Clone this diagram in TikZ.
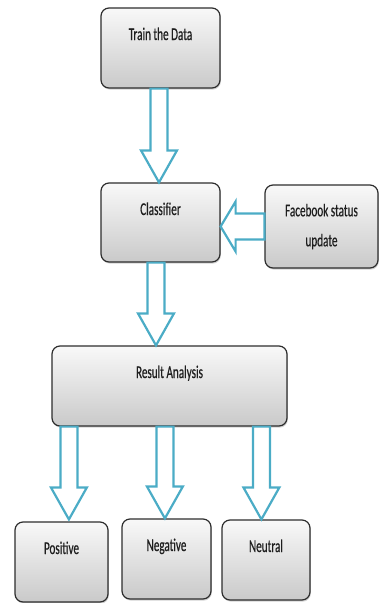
\documentclass[tikz,border=0pt]{standalone}
\usepackage{fontspec}
\setmainfont{Carlito}[FakeStretch=0.62,FakeBold=0.5]
\usetikzlibrary{calc,shadows}
\definecolor{arrowc}{RGB}{75,172,198}
\definecolor{boxline}{RGB}{45,45,45}
\definecolor{txt}{RGB}{30,30,30}
\tikzset{
 box/.style={draw=boxline, line width=1.2pt, rounded corners=8pt,
   top color=gray!5, bottom color=gray!42,
   drop shadow={shadow xshift=0.8pt, shadow yshift=-1.6pt, opacity=0.35},
   inner sep=0pt, text=txt, font=\fontsize{18}{30}\selectfont, align=center},
 topbox/.style={box, text height=32pt, text depth=48pt},
 blk/.style={draw=arrowc, line width=2.2pt, fill=white, line join=miter},
}
\newcommand\downarr[2]{%
 \draw[blk] let \p1=(#1), \p2=(#2) in
  (\x1-8.5pt,\y1) -- (\x1-8.5pt,\y2+32pt) -- (\x1-18pt,\y2+32pt) -- (\x1,\y2)
  -- (\x1+18pt,\y2+32pt) -- (\x1+8.5pt,\y2+32pt) -- (\x1+8.5pt,\y1) -- cycle;}
\begin{document}
\begin{tikzpicture}[x=1pt,y=-1pt]
\useasboundingbox (0,0) rectangle (379,603);
\node[topbox, minimum width=119pt] (train) at (160.5,48) {Train the Data};
\node[topbox, minimum width=119pt, text depth=47pt] (classifier) at (160.5,222.5) {Classifier};
\node[box, minimum width=113pt, minimum height=83pt] (facebook) at (321.5,226.5) {Facebook status\\update};
\node[topbox, minimum width=235pt] (result) at (169.5,386) {Result Analysis};
\node[topbox, minimum width=93pt] (positive) at (61.5,562) {Positive};
\node[topbox, minimum width=89pt] (negative) at (166.5,559) {Negative};
\node[topbox, minimum width=88pt] (neutral) at (266,560) {Neutral};
\coordinate (a1s) at ($(train.south)+(-1.5,0)$);
\coordinate (a1e) at ($(classifier.north)+(-1.5,0)$);
\coordinate (a2s) at ($(classifier.south)+(-4.5,0)$);
\coordinate (a2e) at ($(result.north)+(-13.5,0)$);
\coordinate (a3s) at ($(result.south west)+(17.5,0)$);
\coordinate (a3e) at ($(positive.north)+(8,-2)$);
\coordinate (a4s) at ($(result.south west)+(113.5,0)$);
\coordinate (a4e) at ($(negative.north)+(-1,0)$);
\coordinate (a5s) at ($(result.south west)+(210,0)$);
\coordinate (a5e) at ($(neutral.north)+(-4,0)$);
\downarr{a1s}{a1e}
\downarr{a2s}{a2e}
\downarr{a3s}{a3e}
\downarr{a4s}{a4e}
\downarr{a5s}{a5e}
\draw[blk] let \p1=(facebook.west), \p2=(classifier.east) in
  (\x1,\y1+13pt) -- (\x2+15pt,\y1+13pt) -- (\x2+15pt,\y1+25pt) -- (\x2,\y1)
  -- (\x2+15pt,\y1-25pt) -- (\x2+15pt,\y1-13pt) -- (\x1,\y1-13pt) -- cycle;
\end{tikzpicture}
\end{document}
